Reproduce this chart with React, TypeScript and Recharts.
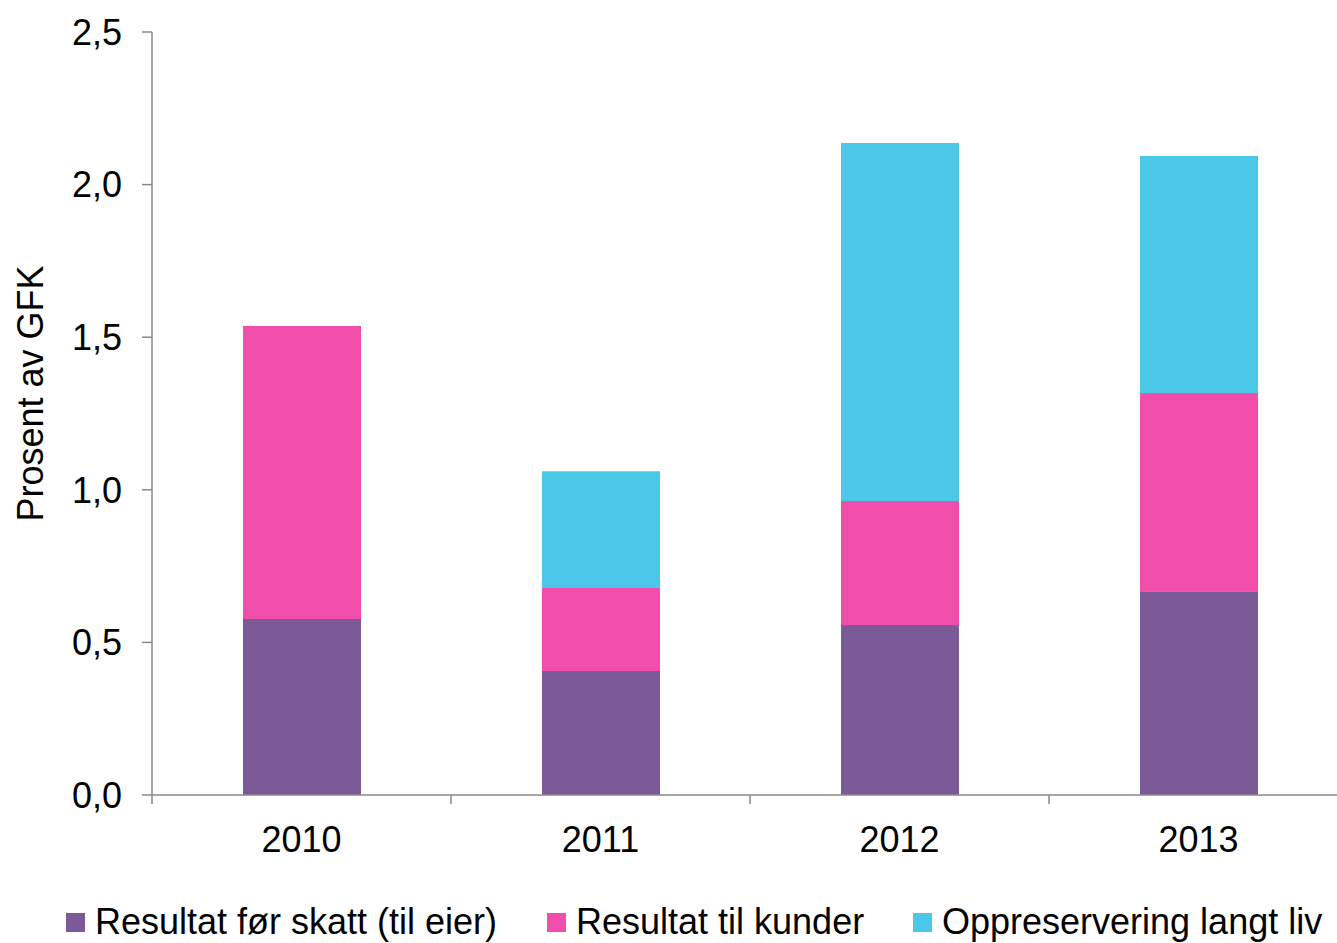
import React from "react";
import { BarChart, Bar, XAxis, YAxis } from "recharts";

const years = ["2010", "2011", "2012", "2013"];
const resultatForSkatt = [0.577, 0.406, 0.557, 0.668];
const resultatTilKunder = [0.96, 0.275, 0.406, 0.649];
const oppreservering = [0, 0.38, 1.173, 0.777];
const yTicks = [0, 0.5, 1.0, 1.5, 2.0, 2.5];

const seriesNames = [
  "Resultat før skatt (til eier)",
  "Resultat til kunder",
  "Oppreservering langt liv",
];
const seriesKeys = ["skatt", "kunder", "opp"];
const seriesColors = ["#7B5A97", "#F04EAA", "#4BC8E8"];
const legendLefts = [66, 547, 913];

const data = years.map((y, i) => ({
  year: y,
  skatt: resultatForSkatt[i],
  kunder: resultatTilKunder[i],
  opp: oppreservering[i],
}));

const FONT = "'Liberation Sans', Arial, sans-serif";
const CHART_W = 1360;
const CHART_H = 943;
const MARGIN = { top: 32, right: 12, left: 0, bottom: 78 };
const Y_W = 152;
const X_H = 70;
const BAND = (CHART_W - MARGIN.left - MARGIN.right - Y_W) / years.length;
const AXIS_COLOR = "#8a8a8a";

const XTick = (props: any) => {
  const { x, y, payload } = props;
  const bx = x - BAND / 2;
  return (
    <g>
      <line x1={bx} x2={bx} y1={y} y2={y + 9} stroke={AXIS_COLOR} strokeWidth={1.5} />
      <text x={x} y={y + 57} textAnchor="middle" fontSize={36} fontFamily={FONT} fill="#000">
        {payload.value}
      </text>
    </g>
  );
};

const YLabel = (props: any) => {
  const vb = props.viewBox || { x: 0, y: 0, width: 0, height: 0 };
  const cx = 43;
  const cy = vb.y + vb.height / 2 - 20;
  return (
    <text
      x={cx}
      y={cy}
      transform={`rotate(-90, ${cx}, ${cy})`}
      textAnchor="middle"
      fontSize={36}
      fontFamily={FONT}
      fill="#000"
    >
      Prosent av GFK
    </text>
  );
};

export default function App() {
  return (
    <div
      style={{
        position: "fixed",
        left: 0,
        top: 0,
        width: 1337,
        height: 943,
        overflow: "hidden",
        background: "#fff",
        fontFamily: FONT,
      }}
    >
      <BarChart width={CHART_W} height={CHART_H} data={data} margin={MARGIN} barSize={118}>
        <XAxis
          dataKey="year"
          height={X_H}
          tickLine={false}
          tickSize={0}
          tickMargin={0}
          axisLine={{ stroke: AXIS_COLOR, strokeWidth: 1.5 }}
          tick={<XTick />}
          interval={0}
        />
        <YAxis
          width={Y_W}
          domain={[0, 2.5]}
          ticks={yTicks}
          interval={0}
          tickSize={10}
          tickMargin={20}
          axisLine={{ stroke: AXIS_COLOR, strokeWidth: 1.5 }}
          tickLine={{ stroke: AXIS_COLOR, strokeWidth: 1.5 }}
          tick={{ fontSize: 36, fontFamily: FONT, fill: "#000" }}
          tickFormatter={(v: number) => v.toFixed(1).replace(".", ",")}
          label={{ content: <YLabel /> }}
        />
        {seriesKeys.map((k, i) => (
          <Bar
            key={k}
            dataKey={k}
            name={seriesNames[i]}
            stackId="a"
            fill={seriesColors[i]}
            isAnimationActive={false}
          />
        ))}
      </BarChart>
      {seriesNames.map((n, i) => (
        <div
          key={n}
          style={{
            position: "absolute",
            left: legendLefts[i],
            top: 904,
            display: "flex",
            alignItems: "center",
            fontSize: 36,
            lineHeight: "36px",
            color: "#000",
            whiteSpace: "nowrap",
          }}
        >
          <span
            style={{
              display: "inline-block",
              width: 19,
              height: 19,
              background: seriesColors[i],
              marginRight: 10,
            }}
          />
          <span>{n}</span>
        </div>
      ))}
    </div>
  );
}
